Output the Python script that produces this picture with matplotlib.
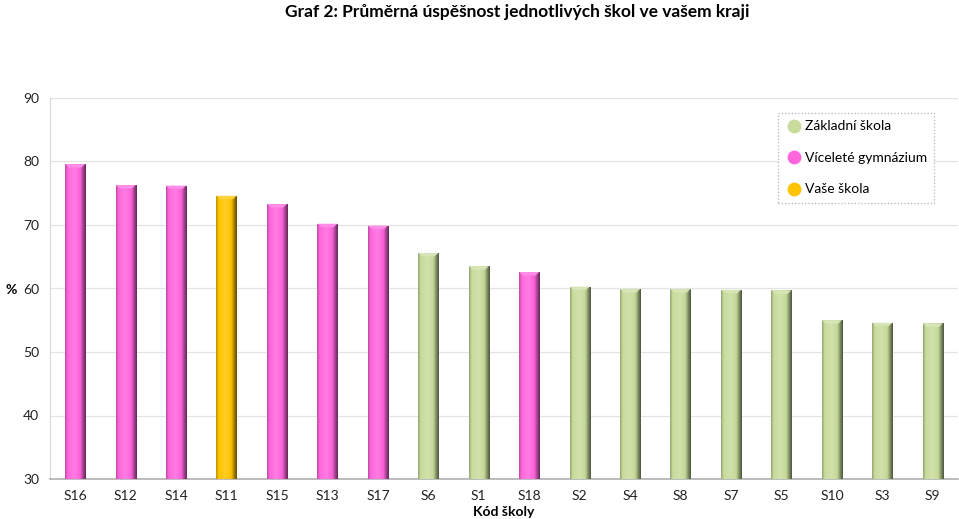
import numpy as np
import matplotlib
matplotlib.use("Agg")
import matplotlib.pyplot as plt
from matplotlib.colors import to_rgb
from matplotlib.lines import Line2D
from matplotlib.patches import Polygon

# data
schools = ["S16", "S12", "S14", "S11", "S15", "S13", "S17", "S6", "S1",
           "S18", "S2", "S4", "S8", "S7", "S5", "S10", "S3", "S9"]
values = [79.6, 76.3, 76.2, 74.6, 73.3, 70.2, 69.9, 65.6, 63.5,
          62.6, 60.3, 59.9, 59.9, 59.8, 59.7, 55.0, 54.6, 54.5]
kinds = ["G", "G", "G", "V", "G", "G", "G", "Z", "Z",
         "G", "Z", "Z", "Z", "Z", "Z", "Z", "Z", "Z"]

labels = {"Z": "Základní škola", "G": "Víceleté gymnázium", "V": "Vaše škola"}
colors = {"Z": "#c8dc9c", "G": "#ff66dd", "V": "#ffc400"}
y_base = 30

plt.rcParams["font.family"] = ["Lato", "DejaVu Sans"]

fig = plt.figure(figsize=(9.59, 5.19), dpi=100)
ax = fig.add_axes([50 / 959, 40 / 519, 908 / 959, 381 / 519])

x = np.arange(len(schools))
heights = [v - y_base for v in values]
bars = ax.bar(x, heights, width=0.4, bottom=y_base,
              color=[colors[k] for k in kinds], linewidth=0, zorder=2)


def shade(base, f):
    c = np.array(to_rgb(base))
    if f >= 1:
        return c + (1 - c) * (f - 1)
    return c * f


# fake the cylinder/bevel look of the original chart
prof_x = [0.0, 0.12, 0.45, 0.75, 0.9, 1.0]
prof_f = [0.75, 1.0, 1.15, 0.95, 0.6, 0.4]
for b, k in zip(bars, kinds):
    base = colors[k]
    n = 40
    t = np.linspace(0, 1, n)
    f = np.interp(t, prof_x, prof_f)
    img = np.array([[shade(base, fi) for fi in f]])
    x0, w = b.get_x(), b.get_width()
    y0, y1 = b.get_y(), b.get_y() + b.get_height()
    im = ax.imshow(img, extent=[x0, x0 + w, y0, y1], aspect="auto",
                   interpolation="bilinear", zorder=3)
    im.set_clip_path(b)
    cap = 0.55
    ax.add_patch(Polygon([[x0, y1], [x0 + w, y1], [x0 + w * 0.8, y1 - cap],
                          [x0 + w * 0.2, y1 - cap]], closed=True,
                         facecolor=shade(base, 1.25), edgecolor="none", zorder=4))

ax.set_xlim(-0.5, len(schools) - 0.5)
ax.set_ylim(30, 90)
ax.set_yticks(range(30, 91, 10))
ax.set_xticks(x)
ax.set_xticklabels(schools)
ax.tick_params(axis="both", length=0, labelsize=10, colors="#222222")
ax.tick_params(axis="x", pad=8)
ax.tick_params(axis="y", pad=8)
ax.grid(axis="y", color="#e3e3e3", linewidth=0.9, zorder=0)
ax.set_axisbelow(True)
for s in ["top", "right"]:
    ax.spines[s].set_visible(False)
ax.spines["left"].set_color("#d9d9d9")
ax.spines["bottom"].set_color("#b0b0b0")
ax.spines["bottom"].set_linewidth(1.2)

ax.set_xlabel("Kód školy", fontsize=10, fontweight="bold", labelpad=2.5)
fig.text(6 / 959, 1 - 290 / 519, "%", fontsize=10, fontweight="bold",
         ha="left", va="center")
fig.text(517 / 959, 1 - 12 / 519,
         "Graf 2: Průměrná úspěšnost jednotlivých škol ve vašem kraji",
         fontsize=12.5, fontweight="bold", ha="center", va="center")

handles = [Line2D([], [], marker="o", linestyle="none", markersize=10,
                  markerfacecolor=colors[k], markeredgecolor="none", label=labels[k])
           for k in ["Z", "G", "V"]]
leg = ax.legend(handles=handles, loc="upper right", bbox_to_anchor=(0.974, 0.961),
                borderaxespad=0, frameon=True, fontsize=10, labelspacing=1.4,
                handletextpad=0.2, borderpad=0.55, fancybox=False, handlelength=1.2)
leg.get_frame().set_edgecolor("#a0a0a0")
leg.get_frame().set_linestyle(":")
leg.get_frame().set_linewidth(0.9)

fig.savefig("out.png", dpi=100)
